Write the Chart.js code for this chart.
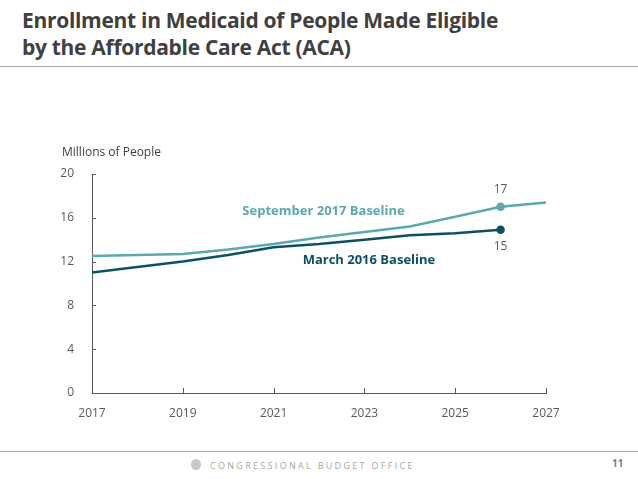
<!DOCTYPE html>
<html>
<head>
<meta charset="utf-8">
<script src="https://cdn.jsdelivr.net/npm/chart.js@4.4.0/dist/chart.umd.min.js"></script>
<style>
  body { margin: 0; background: #fff; font-family: "Open Sans", "Liberation Sans", sans-serif; }
  #page { position: relative; width: 638px; height: 479px; overflow: hidden; }
  #title { position: absolute; left: 22px; top: 7px; font-size: 21px; font-weight: bold; color: #404040; line-height: 27px; letter-spacing: -0.3px; }
  .rule { position: absolute; left: 0; width: 638px; height: 1px; background: #a6a6a6; }
  #foot { position: absolute; top: 459px; left: 210px; font-size: 9px; letter-spacing: 2.3px; color: #a6a6a6; }
  #logo { position: absolute; top: 459px; left: 191px; width: 10px; height: 11px; border-radius: 50%; background: #c8c8c8; }
  #pnum { position: absolute; top: 456px; left: 612px; font-size: 10px; font-weight: bold; color: #7f7f7f; }
  #wrap { position: absolute; left: 0; top: 0; width: 638px; height: 479px; }
</style>
</head>
<body>
<div id="page">
  <div id="title">Enrollment in Medicaid of People Made Eligible<br>by the Affordable Care Act (ACA)</div>
  <div class="rule" style="top:66px"></div>
  <div class="rule" style="top:451px"></div>
  <div id="logo"></div>
  <div id="foot">CONGRESSIONAL BUDGET OFFICE</div>
  <div id="pnum">11</div>
  <div id="wrap"><canvas id="chart"></canvas></div>
</div>
<script>
// ===== data =====
const years = [2017, 2018, 2019, 2020, 2021, 2022, 2023, 2024, 2025, 2026, 2027];
const sept2017 = [12.5, 12.6, 12.7, 13.1, 13.6, 14.2, 14.7, 15.2, 16.1, 17.0, 17.4];
const march2016 = [11.0, 11.5, 12.0, 12.6, 13.3, 13.6, 14.0, 14.4, 14.6, 14.9, null];
const yTicks = [0, 4, 8, 12, 16, 20];
const xTicks = [2017, 2019, 2021, 2023, 2025, 2027];

const lightTeal = '#5ba8ad';
const darkTeal = '#0e5063';
const axisGray = '#595959';

function toXY(vals) {
    return years.map((y, i) => ({ x: y, y: vals[i] }));
}

// ticks pointing into the plot, axis title, series labels and end values
const extras = {
    id: 'extras',
    afterDraw(chart) {
        const { ctx, chartArea } = chart;
        const xs = chart.scales.x, ys = chart.scales.y;
        ctx.save();
        ctx.strokeStyle = axisGray;
        ctx.lineWidth = 1;
        yTicks.forEach(v => {
            const py = Math.round(ys.getPixelForValue(v)) + 0.5;
            ctx.beginPath();
            ctx.moveTo(chartArea.left, py);
            ctx.lineTo(chartArea.left + 4, py);
            ctx.stroke();
        });
        xTicks.forEach(v => {
            const px = Math.round(xs.getPixelForValue(v)) + 0.5;
            ctx.beginPath();
            ctx.moveTo(px, chartArea.bottom);
            ctx.lineTo(px, chartArea.bottom - 5);
            ctx.stroke();
        });

        ctx.font = '12px "Open Sans", sans-serif';
        ctx.fillStyle = '#404040';
        ctx.textAlign = 'left';
        ctx.textBaseline = 'middle';
        ctx.fillText('Millions of People', chartArea.left - 30, chartArea.top - 21);

        // end-point values
        ctx.textAlign = 'center';
        ctx.fillStyle = axisGray;
        const i = 9;
        ctx.fillText(String(Math.round(sept2017[i])), xs.getPixelForValue(years[i]), ys.getPixelForValue(sept2017[i]) - 17);
        ctx.fillText(String(Math.round(march2016[i])), xs.getPixelForValue(years[i]), ys.getPixelForValue(march2016[i]) + 17);

        // series labels
        ctx.font = 'bold 13px "Open Sans", sans-serif';
        ctx.fillStyle = lightTeal;
        ctx.fillText('September 2017 Baseline', xs.getPixelForValue(2022.1), ys.getPixelForValue(16.6));
        ctx.fillStyle = darkTeal;
        ctx.fillText('March 2016 Baseline', xs.getPixelForValue(2023.1), ys.getPixelForValue(12.1));
        ctx.restore();
    }
};

new Chart(document.getElementById('chart'), {
    type: 'line',
    data: {
        datasets: [
            {
                label: 'September 2017 Baseline',
                data: toXY(sept2017),
                borderColor: lightTeal,
                backgroundColor: lightTeal,
                borderWidth: 2.5,
                pointRadius: c => c.dataIndex === 9 ? 3 : 0,
                tension: 0
            },
            {
                label: 'March 2016 Baseline',
                data: toXY(march2016),
                borderColor: darkTeal,
                backgroundColor: darkTeal,
                borderWidth: 2.5,
                pointRadius: c => c.dataIndex === 9 ? 3 : 0,
                tension: 0
            }
        ]
    },
    options: {
        responsive: true,
        maintainAspectRatio: false,
        animation: false,
        layout: { padding: { left: 52, right: 92, top: 174, bottom: 56 } },
        plugins: { legend: { display: false }, tooltip: { enabled: false } },
        scales: {
            x: {
                type: 'linear',
                min: 2017,
                max: 2027,
                afterFit: s => { s.height = 30; },
                afterBuildTicks: s => { s.ticks = xTicks.map(v => ({ value: v })); },
                grid: { display: false },
                border: { color: axisGray, width: 1 },
                ticks: { color: axisGray, font: { size: 12, family: 'Open Sans' }, padding: 5, callback: v => String(v) }
            },
            y: {
                min: 0,
                max: 20,
                afterFit: s => { s.width = 40; },
                afterBuildTicks: s => { s.ticks = yTicks.map(v => ({ value: v })); },
                grid: { display: false },
                border: { color: axisGray, width: 1 },
                ticks: { color: axisGray, font: { size: 12, family: 'Open Sans' }, padding: 10 }
            }
        }
    },
    plugins: [extras]
});
</script>
</body>
</html>
